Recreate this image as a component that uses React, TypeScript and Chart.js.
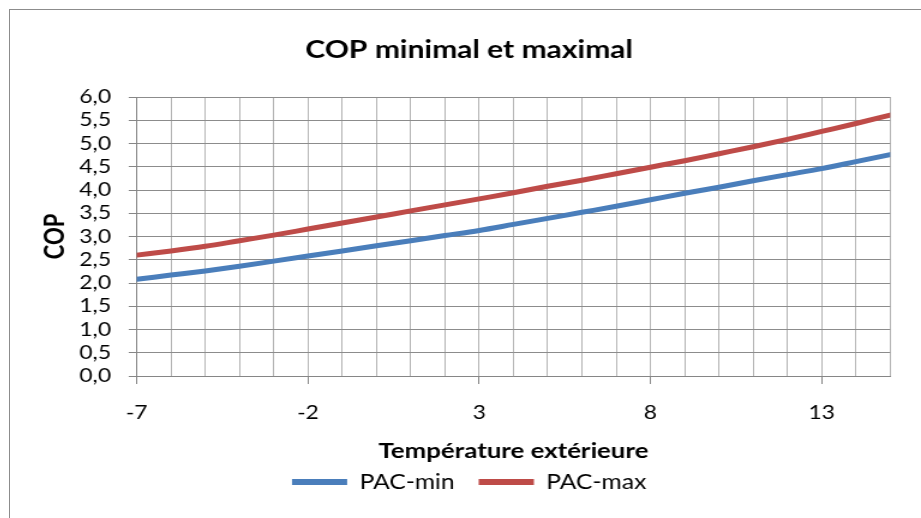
import { useEffect, useRef } from "react";
import { Chart, registerables } from "chart.js";

Chart.register(...registerables);

// Outdoor temperature (°C) and the min / max COP of the heat pump
const temperatures = [-7, -6, -5, -4, -3, -2, -1, 0, 1, 2, 3, 4, 5, 6, 7, 8, 9, 10, 11, 12, 13, 14, 15];
const pacMin = [2.08, 2.17, 2.26, 2.36, 2.47, 2.58, 2.69, 2.80, 2.91, 3.02, 3.13, 3.26, 3.39, 3.52, 3.65, 3.79, 3.93, 4.06, 4.20, 4.33, 4.46, 4.61, 4.76];
const pacMax = [2.60, 2.69, 2.79, 2.91, 3.03, 3.16, 3.29, 3.42, 3.55, 3.68, 3.81, 3.94, 4.08, 4.21, 4.35, 4.49, 4.63, 4.78, 4.93, 5.09, 5.26, 5.43, 5.61];
const xTickLabels = [-7, -2, 3, 8, 13];

const FONT = "Lato, 'Open Sans', sans-serif";
const BLUE = "#4a7ebb";
const RED = "#be4b48";

// The drawing buffer is narrower than the box it is shown in,
// so the whole chart is widened horizontally by this factor.
const STRETCH = 1.2;
const BOX_W = 911;
const BOX_H = 508;
const CANVAS_W = Math.round(BOX_W / STRETCH);

export default function App() {
  const ref = useRef<HTMLCanvasElement>(null);

  useEffect(() => {
    const canvas = ref.current;
    if (!canvas) return;
    const chart = new Chart(canvas, {
      type: "line",
      data: {
        datasets: [
          {
            label: "PAC-min",
            data: temperatures.map((t, i) => ({ x: t, y: pacMin[i] })),
            borderColor: BLUE,
            backgroundColor: BLUE,
            borderWidth: 5,
            pointRadius: 0,
            borderCapStyle: "round",
            cubicInterpolationMode: "monotone",
          },
          {
            label: "PAC-max",
            data: temperatures.map((t, i) => ({ x: t, y: pacMax[i] })),
            borderColor: RED,
            backgroundColor: RED,
            borderWidth: 5,
            pointRadius: 0,
            borderCapStyle: "round",
            cubicInterpolationMode: "monotone",
          },
        ],
      },
      options: {
        responsive: false,
        animation: false,
        devicePixelRatio: 1,
        layout: { padding: { left: 31.7, right: 25.7, top: 0, bottom: 15.75 } },
        scales: {
          x: {
            type: "linear",
            min: -7,
            max: 15,
            afterFit: (scale: any) => {
              scale.height = 75.75;
            },
            ticks: {
              stepSize: 1,
              autoSkip: false,
              maxRotation: 0,
              padding: 17.6,
              color: "#000",
              font: { family: FONT, size: 19 },
              callback: (v: any) => (xTickLabels.includes(Number(v)) ? String(v) : ""),
            },
            grid: {
              color: "#b4b4b4",
              lineWidth: 1,
              tickLength: 8,
              tickColor: (ctx: any) =>
                ctx.tick && xTickLabels.includes(ctx.tick.value) ? "#868686" : "rgba(0,0,0,0)",
            },
            border: { color: "#868686", width: 1 },
            title: {
              display: true,
              text: "Température extérieure",
              color: "#000",
              font: { family: FONT, size: 21.5, weight: "bold" },
              padding: { top: 0, bottom: -12.2 },
            },
          },
          y: {
            min: 0,
            max: 6,
            afterFit: (scale: any) => {
              scale.width = 73.9;
            },
            ticks: {
              stepSize: 0.5,
              autoSkip: false,
              padding: 14.7,
              color: "#000",
              font: { family: FONT, size: 19 },
              callback: (v: any) => Number(v).toFixed(1).replace(".", ","),
            },
            grid: {
              color: "#8c8c8c",
              lineWidth: 1,
              tickLength: 6.7,
              tickColor: "#868686",
            },
            border: { color: "#868686", width: 1 },
            title: {
              display: true,
              text: "COP",
              color: "#000",
              font: { family: FONT, size: 22, weight: "bold" },
              padding: { top: -7.4, bottom: 0 },
            },
          },
        },
        plugins: {
          title: {
            display: true,
            text: "COP minimal et maximal",
            color: "#000",
            font: { family: FONT, size: 25, weight: "bold" },
            padding: { top: 25, bottom: 32 },
          },
          legend: {
            position: "bottom",
            labels: {
              color: "#000",
              font: { family: FONT, size: 20.5 },
              boxWidth: 46,
              boxHeight: 6,
              padding: 20,
              generateLabels: (c: any) =>
                Chart.defaults.plugins.legend.labels
                  .generateLabels(c)
                  .map((item: any) => ({ ...item, lineWidth: 0 })),
            },
          },
          tooltip: { enabled: false },
        },
      },
    } as any);
    return () => chart.destroy();
  }, []);

  return (
    <div
      style={{
        position: "absolute",
        left: 9,
        top: 9,
        width: BOX_W,
        height: BOX_H,
        borderLeft: "1px solid #8c8c8c",
        borderTop: "1px solid #8c8c8c",
        background: "#fff",
      }}
    >
      <canvas
        ref={ref}
        width={CANVAS_W}
        height={BOX_H}
        style={{ display: "block", width: BOX_W, height: BOX_H }}
      />
    </div>
  );
}
